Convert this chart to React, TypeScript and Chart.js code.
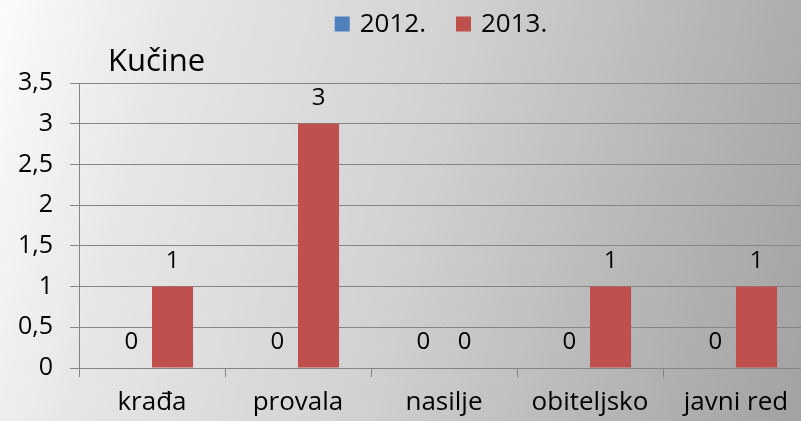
import React, { useEffect, useRef } from "react";
import { Chart, registerables } from "chart.js";

Chart.register(...registerables);

const categories = ["krađa", "provala", "nasilje", "obiteljsko", "javni red"];
const seriesNames = ["2012.", "2013."];
const values2012 = [0, 0, 0, 0, 0];
const values2013 = [1, 3, 0, 1, 1];
const seriesColors = ["#4F81BD", "#C0504D"];
const chartTitle = "Kučine";
const yMin = 0;
const yMax = 3.5;
const yStep = 0.5;

const FONT = "'Open Sans', 'Noto Sans', sans-serif";

const overlayPlugin = {
  id: "overlay",
  afterDraw(chart: any) {
    const ctx = chart.ctx;
    const area = chart.chartArea;
    ctx.save();
    // Title
    ctx.fillStyle = "#000";
    ctx.font = `31px ${FONT}`;
    ctx.textAlign = "left";
    ctx.textBaseline = "alphabetic";
    ctx.fillText(chartTitle, area.left + 29, 71);

    // Legend
    ctx.font = `26px ${FONT}`;
    const box = 15;
    const gapText = 10;
    const gapItems = 30;
    const items = chart.data.datasets.map((d: any) => ({
      label: d.label,
      color: d.backgroundColor,
      w: box + gapText + ctx.measureText(d.label).width,
    }));
    const total = items.reduce((s: number, it: any) => s + it.w, 0) + gapItems * (items.length - 1);
    let x = 441 - total / 2;
    const cy = 24;
    items.forEach((it: any) => {
      ctx.fillStyle = it.color;
      ctx.fillRect(x, cy - box / 2, box, box);
      ctx.fillStyle = "#000";
      ctx.textBaseline = "middle";
      ctx.fillText(it.label, x + box + gapText, cy + 1);
      x += it.w + gapItems;
    });

    // Data labels
    ctx.font = `24px ${FONT}`;
    ctx.textAlign = "center";
    ctx.textBaseline = "alphabetic";
    ctx.fillStyle = "#000";
    chart.data.datasets.forEach((d: any, di: number) => {
      const meta = chart.getDatasetMeta(di);
      meta.data.forEach((el: any, i: number) => {
        ctx.fillText(String(d.data[i]), el.x, el.y - 19);
      });
    });
    ctx.restore();
  },
};

export default function App() {
  const ref = useRef<HTMLCanvasElement | null>(null);
  useEffect(() => {
    document.body.style.margin = "0";
    const canvas = ref.current;
    if (!canvas) return;
    const gridColor = "#858585";
    const chart = new Chart(canvas, {
      type: "bar",
      data: {
        labels: categories,
        datasets: [
          {
            label: seriesNames[0],
            data: values2012,
            backgroundColor: seriesColors[0],
            categoryPercentage: 0.5625,
            barPercentage: 1,
          },
          {
            label: seriesNames[1],
            data: values2013,
            backgroundColor: seriesColors[1],
            categoryPercentage: 0.5625,
            barPercentage: 1,
          },
        ],
      },
      options: {
        responsive: false,
        maintainAspectRatio: false,
        animation: false,
        layout: { padding: { left: 0, right: 0, top: 83, bottom: 0 } },
        plugins: {
          legend: { display: false },
          title: { display: false },
          tooltip: { enabled: false },
        },
        scales: {
          x: {
            grid: {
              drawOnChartArea: false,
              drawTicks: true,
              tickLength: 9,
              color: gridColor,
              lineWidth: 1,
              offset: true,
            },
            border: { color: gridColor, width: 1 },
            ticks: {
              color: "#000",
              font: { size: 26, family: FONT },
              padding: 10,
              maxRotation: 0,
              autoSkip: false,
            },
            afterFit: (s: any) => {
              s.height = 53;
            },
          },
          y: {
            min: yMin,
            max: yMax,
            grid: {
              color: gridColor,
              lineWidth: 1,
              tickLength: 9,
              drawTicks: true,
            },
            border: { color: gridColor, width: 1 },
            ticks: {
              stepSize: yStep,
              color: "#000",
              font: { size: 25, family: FONT },
              padding: 17,
              callback: (v: any) => String(v).replace(".", ","),
            },
            afterFit: (s: any) => {
              s.width = 79;
            },
          },
        },
      },
      plugins: [overlayPlugin],
    });
    return () => chart.destroy();
  }, []);
  return (
    <div
      style={{
        width: 801,
        height: 421,
        overflow: "hidden",
        background:
          "linear-gradient(105deg, #fbfbfb 0%, #e6e6e6 20%, #d2d2d2 50%, #b4b4b4 80%, #a2a2a2 100%)",
      }}
    >
      <canvas ref={ref} width={809} height={421} style={{ display: "block" }} />
    </div>
  );
}
